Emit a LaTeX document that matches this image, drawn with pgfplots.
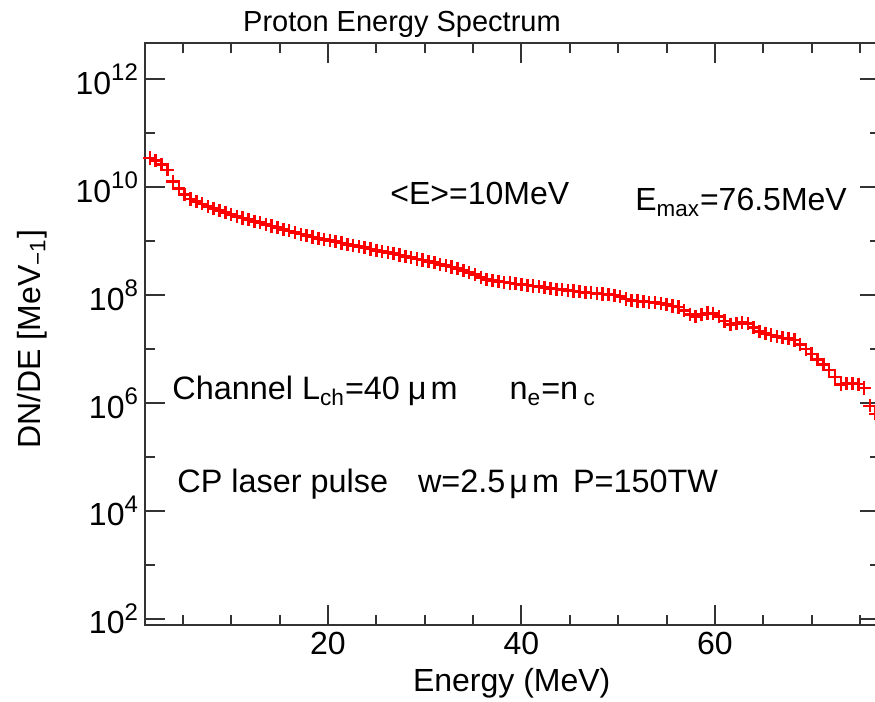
\documentclass[border=0pt]{standalone}
\usepackage{fontspec}
\setmainfont{Liberation Sans}
\usepackage{pgfplots}
\pgfplotsset{compat=1.18}
\definecolor{axgray}{HTML}{333333}
\newcommand{\tl}[1]{10\raisebox{0.42em}{\fontsize{12}{12}\selectfont #1}}
\begin{document}
\begin{tikzpicture}
\begin{axis}[
  scale only axis, width=367.5pt, height=291pt,
  xmin=1.1, xmax=77.05, ymode=log, ymin=77.6, ymax=4.68e12,
  axis line style={axgray, line width=1pt},
  every tick/.style={axgray, line width=1pt},
  major tick length=10pt, minor tick length=5pt,
  tick align=inside,
  xtick={20,40,60},
  minor xtick={5,10,15,25,30,35,45,50,55,65,70,75},
  ytick={1e2,1e4,1e6,1e8,1e10,1e12},
  yticklabels={\tl{2},\tl{4},\tl{6},\tl{8},\tl{10},\tl{12}},
  minor ytick={1e3,1e5,1e7,1e9,1e11},
  tick label style={font=\fontsize{16}{16}\selectfont, text=black},
  /pgf/number format/assume math mode=true,
  xlabel={Energy (MeV)},
  ylabel={DN/DE [MeV\textsubscript{−1}]},
  every axis x label/.style={at={(axis description cs:0.499,-0.0997)},anchor=center,font=\fontsize{16}{16}\selectfont},
  every axis y label/.style={at={(axis description cs:-0.154,0.491)},anchor=center,rotate=90,font=\fontsize{16}{16}\selectfont},
]
\addplot[only marks, mark=+, mark size=3.3pt, red, line width=1.3pt] coordinates {
(1.0,3.89e10)(1.6,3.47e10)(2.2,3.09e10)(2.8,2.63e10)(3.4,2.09e10)(4.0,1.26e10)
(4.6,9.33e9)(5.2,7.24e9)(5.8,6.03e9)(6.4,5.37e9)(7.0,4.90e9)(7.6,4.37e9)
(8.2,3.98e9)(8.8,3.72e9)(9.4,3.39e9)(10.0,3.09e9)(10.6,2.88e9)(11.2,2.69e9)
(11.8,2.51e9)(12.4,2.34e9)(13.0,2.19e9)(13.6,2.04e9)(14.2,1.91e9)(14.8,1.78e9)
(15.4,1.66e9)(16.0,1.55e9)(16.6,1.45e9)(17.2,1.35e9)(17.8,1.26e9)(18.4,1.19e9)
(19.0,1.12e9)(19.6,1.07e9)(20.2,1.02e9)(20.8,9.77e8)(21.4,9.23e8)(22.0,8.71e8)
(22.6,8.32e8)(23.2,7.94e8)(23.8,7.59e8)(24.4,7.16e8)(25.0,6.76e8)(25.6,6.46e8)
(26.2,6.17e8)(26.8,5.89e8)(27.4,5.56e8)(28.0,5.25e8)(28.6,5.01e8)(29.2,4.68e8)
(29.8,4.47e8)(30.4,4.17e8)(31.0,3.98e8)(31.6,3.72e8)(32.2,3.55e8)(32.8,3.31e8)
(33.4,3.09e8)(34.0,2.88e8)(34.6,2.63e8)(35.2,2.40e8)(35.8,2.14e8)(36.4,1.95e8)
(37.0,1.86e8)(37.6,1.78e8)(38.2,1.74e8)(38.8,1.68e8)(39.4,1.62e8)(40.0,1.58e8)
(40.6,1.53e8)(41.2,1.48e8)(41.8,1.43e8)(42.4,1.38e8)(43.0,1.33e8)(43.6,1.29e8)
(44.2,1.26e8)(44.8,1.23e8)(45.4,1.19e8)(46.0,1.15e8)(46.6,1.12e8)(47.2,1.10e8)
(47.8,1.07e8)(48.4,1.05e8)(49.0,1.02e8)(49.6,1.00e8)(50.2,9.33e7)(50.8,8.51e7)
(51.4,7.94e7)(52.0,7.76e7)(52.6,7.59e7)(53.2,7.41e7)(53.8,7.24e7)(54.4,7.08e7)
(55.0,6.76e7)(55.6,6.31e7)(56.2,6.03e7)(56.8,5.25e7)(57.4,4.37e7)(58.0,3.98e7)
(58.6,4.37e7)(59.2,4.68e7)(59.8,4.57e7)(60.4,3.98e7)(61.0,3.31e7)(61.6,2.88e7)
(62.2,2.95e7)(62.8,3.09e7)(63.4,2.95e7)(64.0,2.51e7)(64.6,2.14e7)(65.2,1.95e7)
(65.8,1.82e7)(66.4,1.70e7)(67.0,1.62e7)(67.6,1.58e7)(68.2,1.48e7)(68.8,1.23e7)
(69.4,1.00e7)(70.0,8.13e6)(70.6,6.46e6)(71.2,5.25e6)(71.8,4.07e6)(72.4,3.02e6)
(73.0,2.19e6)(73.6,2.29e6)(74.2,2.34e6)(74.8,2.24e6)(75.4,1.91e6)(76.0,8.91e5)
(76.6,6.31e5)
};
\end{axis}
\node[anchor=base, font=\fontsize{14.5}{14}\selectfont] at (128.5pt,296.5pt) {Proton Energy Spectrum};
\node[anchor=base west, inner sep=0pt, font=\fontsize{16}{16}\selectfont] at (122.5pt,210pt) {<E>=10MeV};
\node[anchor=base west, inner sep=0pt, font=\fontsize{16}{16}\selectfont] at (245pt,207pt) {E\textsubscript{max}=76.5MeV};
\node[anchor=base west, inner sep=0pt, font=\fontsize{16.2}{16}\selectfont] at (13.5pt,112.5pt) {Channel L\textsubscript{ch}=40\hspace*{4pt}μ\hspace*{2pt}m\hspace*{26pt}n\textsubscript{e}=n\,\textsubscript{c}};
\node[anchor=base west, inner sep=0pt, font=\fontsize{16.2}{16}\selectfont] at (16pt,66pt) {CP laser pulse\hspace*{15pt}w=2.5\hspace*{2pt}μ\hspace*{2pt}m\hspace*{7pt}P=150TW};
\pgfresetboundingbox
\path[use as bounding box] (-72.5pt,-38.5pt) rectangle (365pt,312.5pt);
\end{tikzpicture}
\end{document}
